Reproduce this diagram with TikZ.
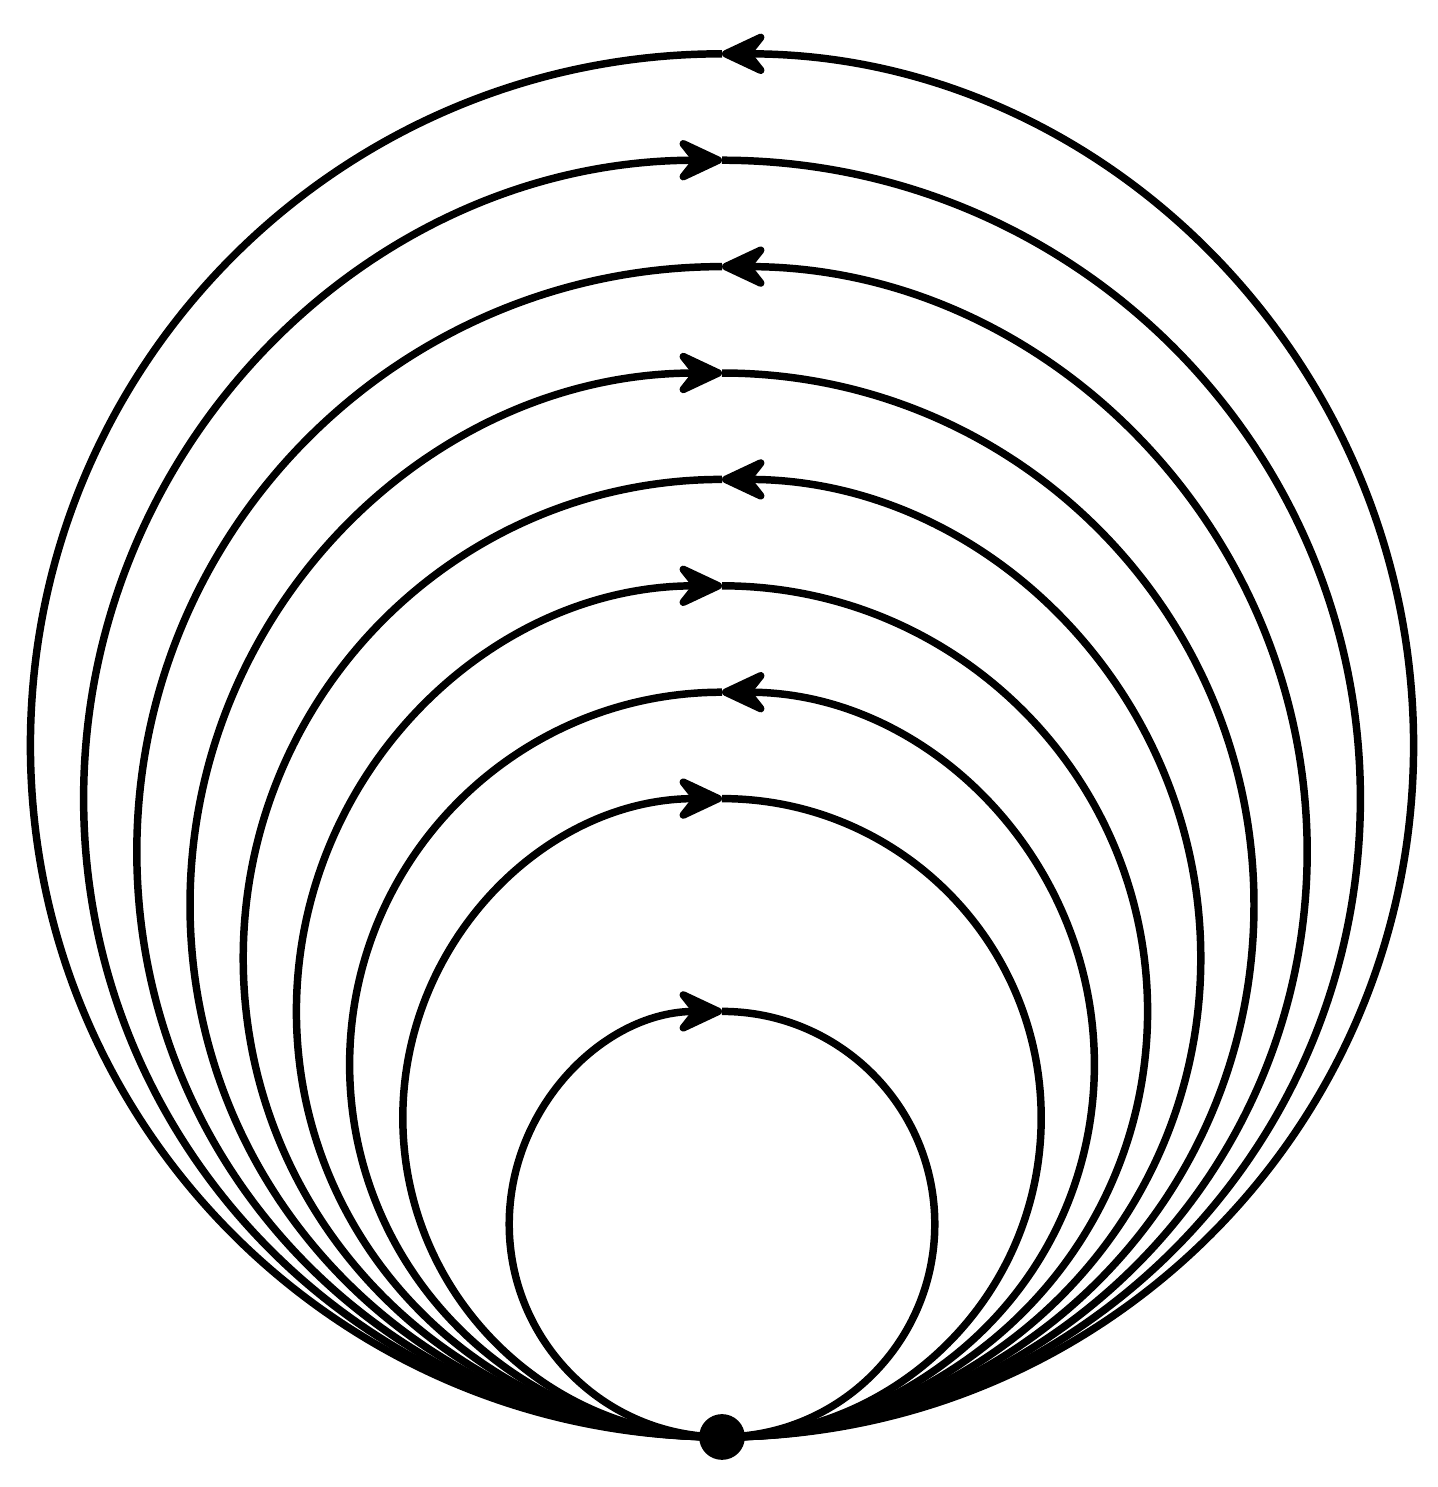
\documentclass[tikz,border=0pt]{standalone}
\usetikzlibrary{arrows.meta}
\begin{document}
\begin{tikzpicture}[
  loop/.style={line width=2pt},
  looparrow/.style={line width=2pt,-{Stealth[round,length=15pt,width=14pt,inset=5.5pt]}},
  dotnode/.style={circle,fill=black,inner sep=0pt,minimum size=0.43cm}
]
\useasboundingbox (-6.786,-0.470) rectangle (6.720,13.506);
\coordinate (O) at (0,0);
% counterclockwise loops (arrow at top pointing left)
\foreach \r in {3.5,4.5,5.5,6.5}{
  \draw[looparrow] (O) arc[start angle=-90,end angle=90,radius=\r];
  \draw[loop] (O) arc[start angle=-90,end angle=-270,radius=\r];
}
% clockwise loops (arrow at top pointing right)
\foreach \r in {2,3,4,5,6}{
  \draw[looparrow] (O) arc[start angle=-90,end angle=-270,radius=\r];
  \draw[loop] (O) arc[start angle=-90,end angle=90,radius=\r];
}
\node[dotnode] (base) at (O) {};
\end{tikzpicture}
\end{document}
